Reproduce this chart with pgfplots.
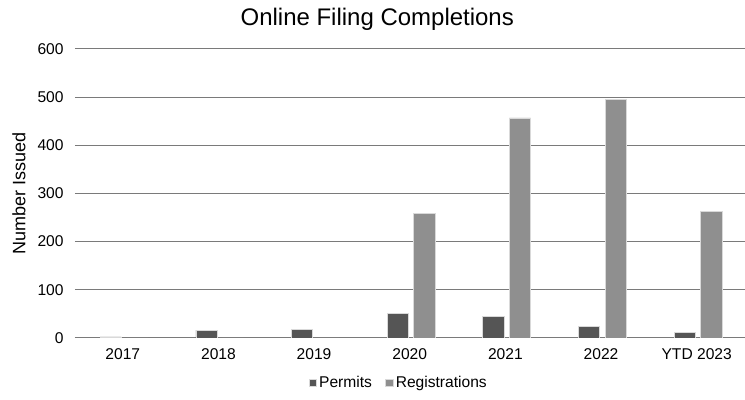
\documentclass[border=0pt]{standalone}
\usepackage{fontspec}
\setmainfont{Liberation Sans}
\usepackage{pgfplots}
\pgfplotsset{compat=1.18}
\definecolor{permits}{HTML}{555555}
\definecolor{regs}{HTML}{8F8F8F}
\definecolor{gridc}{HTML}{7A7A7A}
\begin{document}
\begin{tikzpicture}
\begin{axis}[
    at={(0,0)}, anchor=south west,
    scale only axis,
    width=502.5pt, height=216.75pt,
    ybar,
    xmin=-0.5, xmax=6.5,
    ymin=0, ymax=600,
    ytick={0,100,...,600},
    xtick={0,...,6},
    xticklabels={2017,2018,2019,2020,2021,2022,YTD 2023},
    major tick length=0pt,
    axis x line*=bottom,
    axis y line*=left,
    y axis line style={draw=none},
    x axis line style={draw=gridc, line width=0.75pt},
    ymajorgrids,
    grid style={draw=gridc, line width=0.75pt},
    tick label style={font=\fontsize{11.7}{14}\selectfont},
    yticklabel style={xshift=-5pt},
    xticklabel style={yshift=-4.5pt},
    /pgf/number format/assume math mode=true,
    title={Online Filing Completions},
    title style={font=\fontsize{18}{21}\selectfont, at={(0.4515,1.076)}, anchor=center, yshift=0pt},
    ylabel={Number Issued},
    ylabel style={font=\fontsize{13.5}{16}\selectfont, at={(-0.0836,0.5)}, anchor=center},
    legend style={font=\fontsize{11.7}{14}\selectfont, draw=none, at={(0.484,-0.156)}, anchor=center,
        legend columns=2, /tikz/every even column/.append style={column sep=8pt}},
    legend image code/.code={\fill[#1] (0pt,-2.8pt) rectangle (5.5pt,2.7pt);},
    bar width=16pt,
]
\addplot[fill=permits, draw=white!85!black, line width=0.4pt, bar shift=-9pt] coordinates {
    (0,2) (1,16) (2,17) (3,50) (4,44) (5,23) (6,11)
};
\addplot[fill=regs, draw=white!85!black, line width=0.4pt, bar shift=11pt] coordinates {
    (0,0) (1,0) (2,0) (3,259) (4,457) (5,495) (6,262)
};
\legend{Permits, Registrations}
\end{axis}
\useasboundingbox (-56.25pt,-46.5pt) rectangle (502.5pt,253.5pt);
\end{tikzpicture}
\end{document}
